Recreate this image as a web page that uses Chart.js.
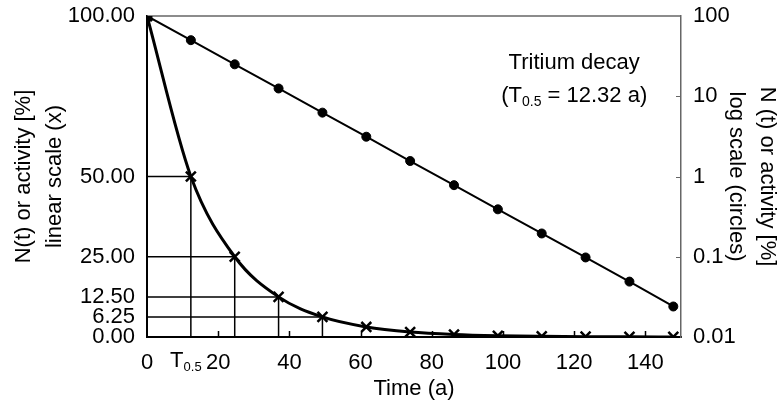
<!DOCTYPE html>
<html>
<head>
<meta charset="utf-8">
<title>Tritium decay</title>
<script src="https://cdn.jsdelivr.net/npm/chart.js@4.4.1/dist/chart.umd.min.js"></script>
<style>
  html, body { margin: 0; padding: 0; background: #fff; }
  canvas { display: block; }
</style>
</head>
<body>
<canvas id="decayChart" width="782" height="402"></canvas>
<script>
// =========================
// DATA
// =========================

const halfLife = 12.32;

const years = [0, 12.32, 24.64, 36.96, 49.28, 61.6, 73.92, 86.24, 98.56, 110.88, 123.2, 135.52, 147.84];

// crosses, left linear axis
const linearActivity = [100, 50, 25, 12.5, 6.25, 3.13, 1.56, 0.78, 0.39, 0.2, 0.1, 0.05, 0.02];

// circles, right log axis
const logActivity = [100, 50, 25, 12.5, 6.25, 3.13, 1.56, 0.78, 0.39, 0.195, 0.098, 0.049, 0.024];

const timeTicks = [0, 20, 40, 60, 80, 100, 120, 140];
const linearTicks = [0, 6.25, 12.5, 25, 50, 100];
const logTicks = [0.01, 0.1, 1, 10, 100];

// half-lives that get drop lines to both axes
const guideCount = 4;

const FONT = '"Liberation Sans", Arial, sans-serif';


// =========================
// HELPERS
// =========================

function toPoints(xs, ys) {
  return xs.map((x, i) => ({ x: x, y: ys[i] }));
}

// parts: [text, size, baseline shift]
function drawRichText(ctx, parts, cx, baseline) {
  let total = 0;
  parts.forEach(p => {
    ctx.font = p[1] + "px " + FONT;
    total += ctx.measureText(p[0]).width;
  });
  let x = cx - total / 2;
  ctx.textAlign = "left";
  ctx.textBaseline = "alphabetic";
  parts.forEach(p => {
    ctx.font = p[1] + "px " + FONT;
    ctx.fillText(p[0], x, baseline + (p[2] || 0));
    x += ctx.measureText(p[0]).width;
  });
}

function guideDatasets() {
  const sets = [];
  for (let i = 1; i <= guideCount; i++) {
    sets.push({
      data: [
        { x: 0, y: linearActivity[i] },
        { x: years[i], y: linearActivity[i] },
        { x: years[i], y: 0 }
      ],
      yAxisID: "y",
      borderColor: "#000",
      borderWidth: 1.5,
      pointRadius: 0,
      tension: 0,
      order: 5
    });
  }
  return sets;
}

// fixed box sizes, no extra label padding at the ends
function fixWidth(w) {
  return s => {
    s.width = w;
    s.paddingTop = 0;
    s.paddingBottom = 0;
  };
}


// =========================
// EXTRA DRAWING
// =========================

const decayExtras = {
  id: "decayExtras",

  beforeDatasetsDraw(chart) {
    const { ctx, chartArea, scales } = chart;
    ctx.save();

    // top frame
    ctx.strokeStyle = "#666";
    ctx.lineWidth = 1.5;
    ctx.beginPath();
    ctx.moveTo(chartArea.left, chartArea.top);
    ctx.lineTo(chartArea.right, chartArea.top);
    ctx.stroke();

    // inner ticks on time axis
    ctx.strokeStyle = "#000";
    ctx.lineWidth = 1.5;
    ctx.beginPath();
    timeTicks.forEach(t => {
      if (t === 0) return;
      const px = Math.round(scales.x.getPixelForValue(t)) + 0.5;
      ctx.moveTo(px, chartArea.bottom);
      ctx.lineTo(px, chartArea.bottom - 6);
    });
    ctx.stroke();

    // inner ticks on log axis
    ctx.strokeStyle = "#666";
    ctx.lineWidth = 1;
    ctx.beginPath();
    logTicks.forEach(v => {
      if (v === logTicks[0] || v === logTicks[logTicks.length - 1]) return;
      const py = Math.round(scales.y2.getPixelForValue(v)) + 0.5;
      ctx.moveTo(chartArea.right, py);
      ctx.lineTo(chartArea.right - 5, py);
    });
    ctx.stroke();

    ctx.restore();
  },

  afterDraw(chart) {
    const { ctx, scales } = chart;
    ctx.save();
    ctx.fillStyle = "#000";

    // T0.5 label under the time axis
    drawRichText(
      ctx,
      [["T", 22], ["0.5", 13, 4]],
      scales.x.getPixelForValue(halfLife) - 5,
      scales.x.top + 30
    );

    // annotation
    const cx = scales.x.getPixelForValue(120);
    ctx.font = "22px " + FONT;
    ctx.textAlign = "center";
    ctx.textBaseline = "alphabetic";
    ctx.fillText("Tritium decay", cx, scales.y.getPixelForValue(83.5));

    drawRichText(
      ctx,
      [["(T", 22], ["0.5", 14, 4], [" = 12.32 a)", 22]],
      cx,
      scales.y.getPixelForValue(73.2)
    );

    ctx.restore();
  }
};


// =========================
// CHART
// =========================

const tickFont = { family: FONT, size: 22 };

new Chart(document.getElementById("decayChart"), {
  type: "line",

  data: {
    datasets: [
      {
        data: toPoints(years, linearActivity),
        yAxisID: "y",
        borderColor: "#000",
        borderWidth: 3,
        pointStyle: "crossRot",
        pointRadius: 7,
        pointBorderWidth: 2.5,
        pointBorderColor: "#000",
        cubicInterpolationMode: "monotone",
        order: 1
      },
      {
        data: toPoints(years, logActivity),
        yAxisID: "y2",
        borderColor: "#000",
        borderWidth: 2,
        pointStyle: c => c.dataIndex === 0 ? "rect" : "circle",
        pointRadius: c => c.dataIndex === 0 ? 7 : 4.5,
        pointBorderWidth: 1,
        pointBackgroundColor: "#000",
        pointBorderColor: "#000",
        tension: 0,
        order: 0
      }
    ].concat(guideDatasets())
  },

  options: {
    responsive: false,
    animation: false,
    events: [],
    layout: { padding: { top: 16, left: 0, right: 0, bottom: 0 } },

    plugins: {
      legend: { display: false },
      tooltip: { enabled: false }
    },

    scales: {
      x: {
        type: "linear",
        min: 0,
        max: 150,
        afterBuildTicks: s => { s.ticks = timeTicks.map(v => ({ value: v })); },
        afterFit: s => {
          s.height = 65;
          s.paddingLeft = 0;
          s.paddingRight = 0;
        },
        grid: { display: false, drawTicks: false },
        border: { color: "#000", width: 2 },
        ticks: { color: "#000", font: tickFont, padding: 13, maxRotation: 0, autoSkip: false },
        title: {
          display: true,
          text: "Time (a)",
          color: "#000",
          font: { family: FONT, size: 22, lineHeight: 1.2 },
          padding: { top: 0, bottom: 0 }
        }
      },

      y: {
        type: "linear",
        position: "left",
        min: 0,
        max: 100,
        afterBuildTicks: s => { s.ticks = linearTicks.map(v => ({ value: v })); },
        afterFit: fixWidth(147),
        grid: { display: false, drawTicks: false },
        border: { color: "#000", width: 2 },
        ticks: {
          color: "#000",
          font: tickFont,
          padding: 12,
          autoSkip: false,
          callback: v => v.toFixed(2)
        },
        title: {
          display: true,
          text: ["N(t) or activity [%]", "linear scale (x)"],
          color: "#000",
          font: { family: FONT, size: 22, lineHeight: 1.4 },
          padding: { top: 9, bottom: 0 }
        }
      },

      y2: {
        type: "logarithmic",
        position: "right",
        min: 0.01,
        max: 100,
        afterBuildTicks: s => { s.ticks = logTicks.map(v => ({ value: v })); },
        afterFit: fixWidth(101),
        grid: { display: false, drawTicks: false },
        border: { color: "#666", width: 1.5 },
        ticks: {
          color: "#000",
          font: tickFont,
          padding: 12,
          autoSkip: false,
          callback: v => String(v)
        },
        title: {
          display: true,
          text: ["N (t) or activity [%]", "log scale (circles)"],
          color: "#000",
          font: { family: FONT, size: 22, lineHeight: 1.4 },
          padding: { top: 0, bottom: 0 }
        }
      }
    }
  },

  plugins: [decayExtras]
});
</script>
</body>
</html>
